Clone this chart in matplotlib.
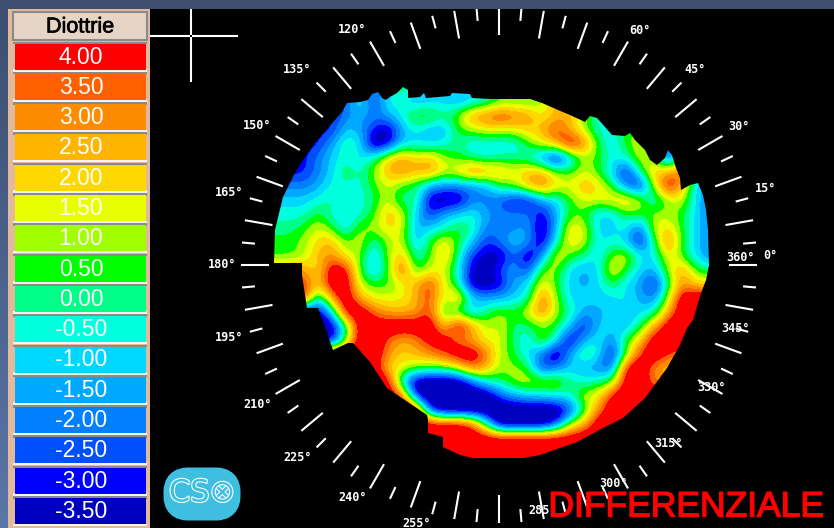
import numpy as np
import matplotlib
matplotlib.use("Agg")
import matplotlib.pyplot as plt
from matplotlib.colors import ListedColormap, BoundaryNorm, LinearSegmentedColormap
from matplotlib.patches import Rectangle, Polygon, FancyBboxPatch
import matplotlib.patheffects as pe

# legend
legend_values = [4.0, 3.5, 3.0, 2.5, 2.0, 1.5, 1.0, 0.5, 0.0, -0.5, -1.0, -1.5, -2.0, -2.5, -3.0, -3.5]
legend_colors = ["#ff0000", "#ff6000", "#ff8c00", "#ffb400", "#ffd800", "#e8ff00", "#a0ff00", "#00ff00",
                 "#00ff88", "#00ffdc", "#00d8ff", "#00a8ff", "#0080ff", "#0050ff", "#0000ff", "#0000c0"]

# angle labels: text, where it sits (angle, radius)
label_text = [0, 15, 30, 45, 60, 120, 135, 150, 165, 180, 195, 210, 225, 240, 255, 285, 300, 315, 330, 345, 360]
label_angle = [1.9, 16, 30, 45, 59, 122, 136, 150, 165, 180, 195, 210, 223.7, 237.8, 252.2, 280, 297.7, 313.4, 330, 345, 1.7]
label_radius = [272, 277, 277, 277, 274, 278, 281, 279, 279, 277, 279, 279, 279, 275, 271, 249, 247, 246, 245, 245, 242]

# dioptre map, x and y in picture pixels
grid_x = [276, 290, 304, 318, 332, 346, 360, 374, 388, 402, 416, 430, 444, 458, 472, 486,
          500, 514, 528, 542, 556, 570, 584, 598, 612, 626, 640, 654, 668, 682, 696, 710]
grid_y = [88, 102, 116, 130, 144, 158, 172, 186, 200, 214, 228, 242, 256, 270,
          284, 298, 312, 326, 340, 354, 368, 382, 396, 410, 424, 438, 452, 466]
r088 = [-3, -3, -3, -3, -3, -2, -2, -2.5, -1, 0.5, -1, -1, -1, -1, -1, -0.5, 1, 1, 0.5, 0.5, 2, 2, 2, 1, 0, 0, 0, 0, 0, 0, 0, 0]
r102 = [-3, -3, -3, -3, -3, -2.5, 0, -3, -0.5, -0.5, -1.5, -1, -1, -1.5, -1, -0.5, 0.5, 0.5, 0.5, 1, 2.5, 3, 1, 0, 0, 0, 0, 0, 0, 0, 0, 0]
r116 = [-3, -3, -3, -3, -3, -2, -1.5, -2, -1.5, -0.5, 1, 1, 0, 1, 3, 3.5, 4, 3.5, 3, 1.5, 2.5, 2.5, 1, -0.5, -0.5, 0, 0, 0, 0, 0, 0, 0]
r130 = [-3, -3, -3, -3, -3, -1, -1.5, -3, -4, -1.5, -0.5, -1.5, -1.5, 0.5, 1, 1.5, 1.5, 1.5, 2, 2.5, 4, 2.5, 1, -0.5, -0.5, 0.5, 1, 0, 0, 0, 0, 0]
r144 = [-3, -3, -3, -3, -1.5, 0, -0.5, -4.5, -3.5, -1, -1, -1, -0.5, 0, -1, -1, -1, -1, 0.5, 1.5, 2.5, 5, 3.5, 0.5, -1, 0.5, 1.5, 1, -3, -3, 0, 0]
r158 = [-3, -3, -3, -2, -1, -0.5, -1, 0, 2, 3, 2, 2.5, 1, 0.5, 0, -0.5, 0, 0, -0.5, -2, -4, -1.5, 1, 0.5, -0.5, -0.5, 1.5, 1, -3, 1, 0, 0]
r172 = [-3, -3, -3, -2, -1, 0.5, -0.5, 1, 2.5, 3, 2.5, 3, 1.5, 2, 3.5, 3, 2.5, 1.5, 2.5, 2.5, 1, 0.5, 1.5, 0.5, -1, -3.5, 0, 2.5, 2.5, 4, 0, -1]
r186 = [-2, -2, -2, -1.5, -0.5, -0.5, -0.5, 0.5, 1.5, 0.5, 0, -1.5, -2, -2, -2, -1.5, 0.5, 1, 2.5, 3.5, 2, 1.5, 2.5, 2, 0.5, -2, -3.5, 1, 5, 2.5, -1, -2]
r200 = [-1, -1, -1, -0.5, 0, -0.5, -0.5, 0, 1.5, -0.5, 0.5, -4, -4, -4, -2, -2, -2.5, -3.5, -3.5, -1.5, -1, 0.5, 1.5, 1.5, 2, 2.5, 1.5, -1, 1, 1.5, -1, -2]
r214 = [-0.5, -0.5, -0.5, 0.5, -0.5, -1, -0.5, 0.5, 2.5, 1.5, -1, -3, -1.5, -1, -0.5, -1.5, -2, -2, -2, -3.5, -1.5, 0.5, 0.5, -1, -1, 0.5, 0.5, 1, 1, 0.5, -1, -2]
r228 = [0, 0, 0.5, 1.5, 0.5, -1, 1, 1, 2, 1.5, -1.5, -1, -0.5, 0.5, 0, -2, -2, -2, -1.5, -4, -1.5, 2, 1.5, -1, -1, -0.5, -2.5, 1.5, 2, 0.5, -1, -2]
r242 = [0.5, 0.5, 1, 2, 2.5, 0.5, 1.5, -0.5, 1, 1.5, -1.5, 0.5, 2, 0.5, -1, -3, -2, -1, -1.5, -4, -0.5, 2, 1.5, -1, -0.5, -1, -3.5, 0, 3.5, 0.5, -1, -2]
r256 = [0.5, 0.5, 1, 2.5, 3, 1.5, 1, -1.5, 1, 2.5, -0.5, 0.5, 2.5, 0, -3, -3.5, -4, -2, -4, -2, 2, 0.5, 0, -1, 1, 1.5, -0.5, -1, 2, 0.5, -1, -2]
r270 = [3, 3, 3, 1.5, 5, 4.5, 0.5, -1.5, 0.5, 4, 0, 1.5, 1.5, -0.5, -3.5, -4, -2.5, -1.5, -3, 1, 1, -1, -1.5, -1, 2, 0.5, -1, -1.5, 1, 3, 0.5, 0]
r284 = [4, 4, 4, 2, 5, 5, 1, 0.5, 0.5, 1.5, 2.5, 4, 1.5, 0, -4, -4, -3.5, -1.5, -1, 2, 0.5, -1, -1.5, -1, 0.5, -1, -1.5, -3.5, 0, 3, 2, 2]
r298 = [4, 4, 5, -1, 3, 5, 2.5, 1.5, 1.5, 1.5, 2.5, 4, 1, 3, -1, -1.5, -1.5, -1, -0.5, 3.5, 1, -1, -1, -1, -1, -0.5, -1.5, -2, 1, 5, 5, 5]
r312 = [-4, -4, -4, -4, -1, 5, 5, 3.5, 2.5, 2.5, 2.5, 4, 0, 0, -1.5, 0, 1, 0.5, 1.5, 3.5, 1, 0, -1.5, -1.5, -1, -1, -1, -0.5, 2.5, 5, 5, 5]
r326 = [-4, -4, -4, -4, -4, 0, 5, 4.5, 5, 5, 5, 5, 2, 5, 3, 1, 1.5, 0, 0, 0.5, 0.5, -1, -3.5, -1, -1, -1.5, 0, 2.5, 5, 5, 5, 5]
r340 = [-4, -4, -4, -4, -4, 0.5, 5, 5, 3.5, 2.5, 3, 4.5, 4.5, 3, 2.5, 1.5, 1.5, 0, -1, 1.5, -0.5, -4, -1.5, -0.5, -2, 0.5, 2, 5, 5, 5, 5, 5]
r354 = [5, 5, 5, 5, 5, 5, 5, 5, 3, 2, 2.5, 3, 4, 5, 5, 3.5, 1, 0.5, -1, -2, -4.5, -1.5, 0.5, -0.5, -3.5, 0.5, 4, 5, 4, 3, 3, 3]
r368 = [5, 5, 5, 5, 5, 5, 5, 5, 2, 1.5, 1, 0.5, 0.5, 1.5, 3.5, 2.5, 1, 1, 0.5, -3, -2, -1, -1.5, -2, -2.5, 4.5, 5, 3, 2, 2, 2, 2]
r382 = [5, 5, 5, 5, 5, 5, 5, 5, 5, -1, -4.5, -4.5, -4.5, -4.5, -2.5, -0.5, 0, 1, 1.5, 1.5, 1.5, 0, -0.5, 0, 0.5, 5, 5, 3, 3, 3, 3, 3]
r396 = [5, 5, 5, 5, 5, 5, 5, 5, 5, 4, -3, -4.5, -4.5, -4.5, -4.5, -4.5, -2.5, -1.5, -1, -1, -0.5, -0.5, 1.5, 1.5, 4.5, 5, 5, 5, 5, 5, 5, 5]
r410 = [5, 5, 5, 5, 5, 5, 5, 5, 5, 5, 5, -3, -4.5, -4.5, -4.5, -4.5, -4.5, -4.5, -4.5, -4.5, -4.5, -3, 0, 3, 5, 5, 5, 5, 5, 5, 5, 5]
r424 = [5, 5, 5, 5, 5, 5, 5, 5, 5, 5, 5, 5, 5, 5, 4, 0, -4.5, -4.5, -4.5, -4.5, -3, 1, 2.5, 5, 5, 5, 5, 5, 5, 5, 5, 5]
r438 = [5] * 32
r452 = [5] * 32
r466 = [5] * 32
z = np.array([r088, r102, r116, r130, r144, r158, r172, r186, r200, r214, r228, r242, r256, r270,
              r284, r298, r312, r326, r340, r354, r368, r382, r396, r410, r424, r438, r452, r466])

# outline of the measured area
edge_x = [347, 360, 368, 372, 378, 382, 386, 390, 397, 403, 408, 408, 420, 424, 426, 450, 452, 470, 472, 490, 530, 542, 558,
          570, 585, 590, 597, 605, 612, 625, 630, 635, 645, 650, 657, 665, 668, 672, 676, 680, 681, 690, 698, 703, 706, 708,
          709, 706, 700, 693, 687, 680, 667, 645, 623, 603, 577, 540, 523, 473, 460, 443, 443, 428, 428, 427, 387, 370, 353,
          348, 333, 318, 307, 302, 302, 274, 275, 283, 295, 303, 315, 328, 342]
edge_y = [103, 102, 100, 94, 92, 98, 100, 97, 93, 87, 90, 98, 97, 93, 98, 96, 93, 94, 98, 99, 99, 103, 110,
          115, 122, 116, 118, 127, 135, 136, 133, 140, 150, 160, 165, 158, 150, 155, 168, 178, 190, 185, 183, 195, 210, 230,
          265, 280, 296, 320, 328, 345, 368, 398, 418, 428, 442, 455, 458, 458, 455, 447, 437, 433, 420, 415, 388, 362, 343,
          343, 350, 308, 308, 275, 263, 263, 230, 197, 173, 160, 143, 128, 112]

cx, cy = 499, 265

fig = plt.figure(figsize=(8.34, 5.28), dpi=100, facecolor="#3d4e6e")
ax = fig.add_axes([0, 0, 1, 1])
ax.axis("off")

# slate background on the left, lighter at the bottom
ax.imshow(np.linspace(0, 1, 50).reshape(-1, 1), cmap=LinearSegmentedColormap.from_list("bg", ["#3d4e6e", "#5a76a8"]),
          extent=(0, 8, 528, 0), aspect="auto", zorder=0)

ax.add_patch(Rectangle((150, 9), 684, 519, fc="black", ec="none", zorder=1))

# map, colour bands follow the legend
bounds = [-9] + [v + 0.25 for v in legend_values[:0:-1]] + [9]
cmap = ListedColormap(legend_colors[::-1])
norm = BoundaryNorm(bounds, cmap.N)
step = grid_x[1] - grid_x[0]
im = ax.imshow(z, cmap=cmap, norm=norm, interpolation="bicubic", interpolation_stage="data", aspect="auto",
               extent=(grid_x[0] - step / 2, grid_x[-1] + step / 2, grid_y[-1] + step / 2, grid_y[0] - step / 2), zorder=2)
clip = Polygon(np.column_stack([edge_x, edge_y]), closed=True, transform=ax.transData, fc="none", ec="none")
ax.add_patch(clip)
im.set_clip_path(clip)

ax.set_xlim(0, 834)
ax.set_ylim(528, 0)

# ticks
for a in range(0, 360, 5):
    r0 = 230 if a % 10 == 0 else 245
    t = np.radians(a)
    ax.plot([cx + r0 * np.cos(t), cx + 258 * np.cos(t)], [cy - r0 * np.sin(t), cy - 258 * np.sin(t)],
            color="white", lw=1.5, solid_capstyle="butt", zorder=3)

for s, a, r in zip(label_text, label_angle, label_radius):
    t = np.radians(a)
    ax.text(cx + r * np.cos(t), cy - r * np.sin(t), "%d\u00b0" % s, color="white", fontsize=8.5, fontweight="bold",
            family="DejaVu Sans Mono", ha="center", va="center", zorder=4)

# crosshair
ax.plot([150, 237], [36, 36], color="white", lw=1.5, zorder=3)
ax.plot([191, 191], [9, 81], color="white", lw=1.5, zorder=3)
ax.add_patch(Rectangle((190, 35), 2, 2, fc="black", ec="none", zorder=4))

# legend panel
ax.add_patch(Rectangle((8, 9), 142, 519, fc="#e3b99c", ec="none", zorder=5))
ax.add_patch(Rectangle((13, 12), 134, 28, fc="#e6d5c5", ec="#8a8a8a", lw=1.5, zorder=6))
ax.text(80, 27, "Diottrie", color="black", fontsize=15.5, family="Liberation Sans", ha="center", va="center", zorder=7,
        path_effects=[pe.withStroke(linewidth=0.5, foreground="black")])
for i, (v, c) in enumerate(zip(legend_values, legend_colors)):
    top = 43.5 + 30.3 * i
    ax.add_patch(Rectangle((13, top - 2), 134, 2.5, fc="#8a8a8a", ec="none", zorder=6))
    ax.add_patch(Rectangle((13, top + 25.5), 134, 2.5, fc="#f4f4f4", ec="none", zorder=6))
    ax.add_patch(Rectangle((15, top), 131, 26, fc=c, ec="none", zorder=7))
    ax.text(81, top + 13.5, "%.2f" % v, color="white", fontsize=16.5, family="Liberation Sans",
            ha="center", va="center", zorder=8)

# logo
ax.add_patch(FancyBboxPatch((176, 480), 52, 28, boxstyle="round,pad=0,rounding_size=12", mutation_scale=1,
                            fc="#3ebfe0", ec="#3ebfe0", lw=18, zorder=3))
ax.text(202, 493, "CS\u2297", color="#3ebfe0", fontsize=22, family="DejaVu Sans", ha="center", va="center", zorder=4,
        path_effects=[pe.withStroke(linewidth=1.6, foreground="white")])

ax.text(686, 507, "DIFFERENZIALE", color="#ff0000", fontsize=25.5, family="Liberation Sans", ha="center", va="center", zorder=6,
        path_effects=[pe.withStroke(linewidth=1, foreground="#ff0000")])

# top strip covers the ticks
ax.add_patch(Rectangle((0, 0), 834, 9, fc="#3d4e6e", ec="none", zorder=9))

fig.savefig("out.png", dpi=100, facecolor=fig.get_facecolor())
